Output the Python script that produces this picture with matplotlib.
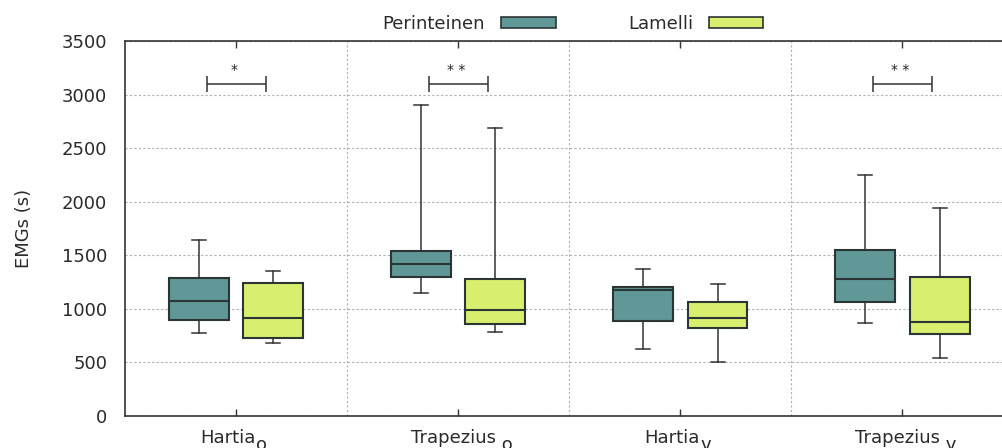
import matplotlib
matplotlib.use("Agg")
import matplotlib.pyplot as plt
from matplotlib.patches import Patch
from matplotlib.ticker import FixedLocator, MultipleLocator

# Muscle groups (name, subscript) and series
group_names = ["Hartia", "Trapezius", "Hartia", "Trapezius"]
group_subs = ["o", " o", "v", " v"]
series = ["Perinteinen", "Lamelli"]

# Box statistics per group: whisker low, Q1, median, Q3, whisker high
perinteinen_whislo = [772, 1148, 628, 868]
perinteinen_q1 = [899, 1294, 890, 1064]
perinteinen_med = [1073, 1422, 1173, 1282]
perinteinen_q3 = [1291, 1540, 1207, 1552]
perinteinen_whishi = [1640, 2906, 1369, 2246]

lamelli_whislo = [684, 781, 501, 544]
lamelli_q1 = [728, 859, 824, 762]
lamelli_med = [912, 986, 912, 880]
lamelli_q3 = [1244, 1279, 1061, 1300]
lamelli_whishi = [1356, 2691, 1235, 1941]

# Significance markers per group (empty = none)
significance = ["*", "* *", "", "* *"]
bracket_level = 3100

colors = {"Perinteinen": "#5f9896", "Lamelli": "#d8ee6e"}
edge = "#2b3535"
text_color = "#2a2a2a"

plt.rcParams["font.family"] = ["DejaVu Sans"]

fig = plt.figure(figsize=(10.02, 4.48), dpi=100)
ax = fig.add_axes([0.125, 0.0714, 0.8865, 0.8371])


def stats(lo, q1, med, q3, hi):
    return [dict(whislo=a, q1=b, med=c, q3=d, whishi=e, fliers=[])
            for a, b, c, d, e in zip(lo, q1, med, q3, hi)]


offset = 0.167
width = 0.27
centers = list(range(1, len(group_names) + 1))

for name, st, sign in [
    ("Perinteinen", stats(perinteinen_whislo, perinteinen_q1, perinteinen_med,
                          perinteinen_q3, perinteinen_whishi), -1),
    ("Lamelli", stats(lamelli_whislo, lamelli_q1, lamelli_med,
                      lamelli_q3, lamelli_whishi), 1),
]:
    ax.bxp(st, positions=[c + sign * offset for c in centers], widths=width,
           patch_artist=True, showfliers=False, manage_ticks=False,
           boxprops=dict(facecolor=colors[name], edgecolor=edge, linewidth=1.5),
           medianprops=dict(color=edge, linewidth=1.5),
           whiskerprops=dict(color="#333333", linewidth=1.1),
           capprops=dict(color="#333333", linewidth=1.1),
           capwidths=0.063, zorder=3)

# Significance brackets
for c, s in zip(centers, significance):
    if not s:
        continue
    ax.errorbar(c, bracket_level, xerr=0.134, fmt="none", ecolor="#333333",
                elinewidth=1.1, capsize=5.5, capthick=1.1, zorder=3)
    ax.text(c - 0.01, bracket_level + 130, s, ha="center", va="center",
            fontsize=10, color="#222222")

ax.set_xlim(0.5, 4.5)
ax.set_ylim(0, 3500)
ax.yaxis.set_major_locator(MultipleLocator(500))
ax.set_xticks(centers)
ax.xaxis.set_minor_locator(FixedLocator([1.5, 2.5, 3.5]))

ax.grid(axis="y", which="major", linestyle=(0, (2, 2)), color="#b0b0b0",
        linewidth=0.8, zorder=0)
ax.grid(axis="x", which="minor", linestyle=(0, (2, 2)), color="#b0b0b0",
        linewidth=0.8, zorder=0)
ax.set_axisbelow(True)

ax.tick_params(axis="y", which="both", length=0, pad=13, labelsize=13,
               labelcolor=text_color)
ax.tick_params(axis="x", which="major", direction="in", length=5, width=1,
               top=True, labelsize=13, color="#333333")
ax.tick_params(axis="x", which="minor", length=0)

for sp in ax.spines.values():
    sp.set_color("#333333")
    sp.set_linewidth(1.2)

ax.set_ylabel("EMGs (s)", fontsize=13, color=text_color)
ax.yaxis.set_label_coords(-0.104, 0.5)

# Group labels with a lowered subscript that follows each name
label_shift = [-5.8, -3.6, -5.8, -3.6]
for c, name, sub, dx in zip(centers, group_names, group_subs, label_shift):
    base = ax.annotate(name, xy=(c, 0), xycoords=("data", "axes fraction"),
                       xytext=(dx, -9.5), textcoords="offset points",
                       ha="center", va="top", fontsize=13, color=text_color,
                       annotation_clip=False)
    ax.annotate(sub, xy=(1, 0.64), xycoords=base, ha="left", va="top",
                fontsize=13, color=text_color, annotation_clip=False)
ax.set_xticklabels([])

handles = [Patch(facecolor=colors[n], edgecolor=edge, linewidth=1.2, label=n)
           for n in series]
fig.legend(handles=handles, loc="center", bbox_to_anchor=(573 / 1002, 0.946),
           ncol=2, frameon=False, markerfirst=False, fontsize=13,
           handlelength=3.0, handleheight=0.55, handletextpad=0.9,
           columnspacing=4.0, labelcolor=text_color)

fig.savefig("out.png", dpi=100)
